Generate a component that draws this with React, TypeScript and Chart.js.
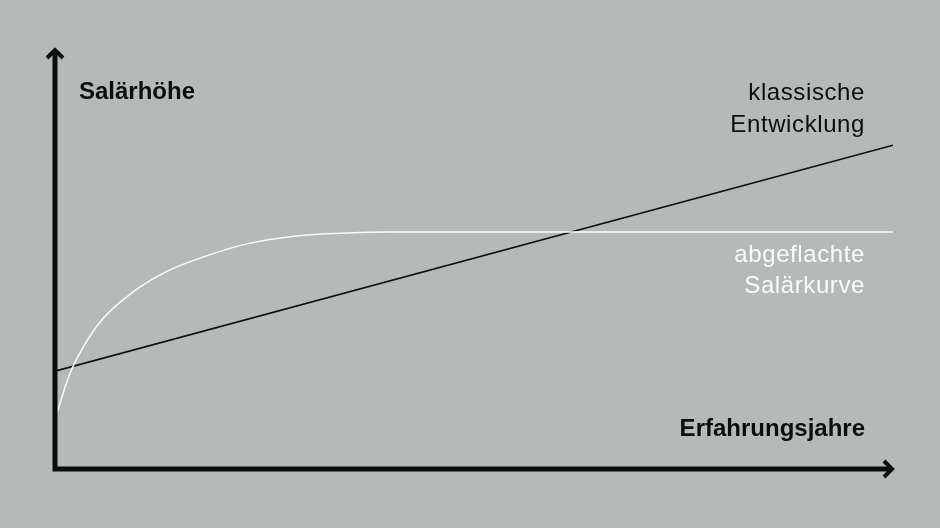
import { useEffect, useRef } from "react"
import { Chart, registerables, type Plugin } from "chart.js"

Chart.register(...registerables)

// salary curves (x = years of experience, y = salary level, both 0..100)
const classicYears = [0, 100]
const classicSalary = [23.3, 77.1]

const flatYears = [0.27, 1.79, 3.38, 5.76, 9.34, 13.3, 17.3, 22.9, 28.8, 34.8, 40, 100]
const flatSalary = [13.6, 22.8, 29.1, 35.9, 42.2, 47.0, 50.2, 53.6, 55.5, 56.2, 56.4, 56.4]

const yAxisTitle = "Salärhöhe"
const xAxisTitle = "Erfahrungsjahre"
const classicLabel = ["klassische", "Entwicklung"]
const flatLabel = ["abgeflachte", "Salärkurve"]

const BG = "rgb(181, 186, 185)"
const INK = "#0d0d0d"
const WHITE = "#fbfbfb"
const FONT = "'Liberation Sans', Arial, sans-serif"

// arrows, axis lines and the text labels
const decorPlugin: Plugin = {
  id: "decor",
  afterDatasetsDraw(chart) {
    const { ctx, chartArea } = chart
    const { left, right, top, bottom } = chartArea
    ctx.save()

    // axes
    ctx.strokeStyle = INK
    ctx.lineWidth = 5
    ctx.lineCap = "butt"
    ctx.beginPath()
    ctx.moveTo(left, top + 2)
    ctx.lineTo(left, bottom + 2.5)
    ctx.moveTo(left - 2.5, bottom)
    ctx.lineTo(right - 2, bottom)
    ctx.stroke()

    // arrow heads
    ctx.lineWidth = 4
    ctx.lineJoin = "miter"
    ctx.beginPath()
    ctx.moveTo(left - 8, top + 9)
    ctx.lineTo(left, top + 1)
    ctx.lineTo(left + 8, top + 9)
    ctx.moveTo(right - 9, bottom - 8)
    ctx.lineTo(right - 1, bottom)
    ctx.lineTo(right - 9, bottom + 8)
    ctx.stroke()

    // labels
    const textRight = right - 28
    ctx.textBaseline = "alphabetic"

    ctx.fillStyle = INK
    ctx.font = `bold 24px ${FONT}`
    ctx.textAlign = "left"
    ctx.fillText(yAxisTitle, left + 24, 99)
    ctx.textAlign = "right"
    ctx.fillText(xAxisTitle, textRight, 436)

    ctx.font = `24px ${FONT}`
    ;(ctx as any).letterSpacing = "0.6px"
    ctx.fillText(classicLabel[0], textRight, 100)
    ctx.fillText(classicLabel[1], textRight, 132)

    ctx.fillStyle = WHITE
    ctx.fillText(flatLabel[0], textRight, 262)
    ctx.fillText(flatLabel[1], textRight, 293)

    ctx.restore()
  },
}

function SalaryChart() {
  const canvasRef = useRef<HTMLCanvasElement>(null)
  const chartInstance = useRef<Chart | null>(null)

  useEffect(() => {
    if (!canvasRef.current) return

    if (chartInstance.current) {
      chartInstance.current.destroy()
    }

    chartInstance.current = new Chart(canvasRef.current, {
      type: "line",
      data: {
        datasets: [
          {
            label: "abgeflachte Salärkurve",
            data: flatYears.map((x, i) => ({ x, y: flatSalary[i] })),
            borderColor: WHITE,
            borderWidth: 1.5,
            pointRadius: 0,
            cubicInterpolationMode: "monotone",
            fill: false,
          },
          {
            label: "klassische Entwicklung",
            data: classicYears.map((x, i) => ({ x, y: classicSalary[i] })),
            borderColor: INK,
            borderWidth: 1.6,
            pointRadius: 0,
            tension: 0,
            fill: false,
          },
        ],
      },
      options: {
        responsive: false,
        animation: false,
        layout: { padding: { left: 55, right: 47, top: 49, bottom: 59 } },
        scales: {
          x: { type: "linear", min: 0, max: 100, display: false },
          y: { type: "linear", min: 0, max: 100, display: false },
        },
        plugins: {
          legend: { display: false },
          tooltip: { enabled: false },
        },
      },
      plugins: [decorPlugin],
    })

    return () => {
      if (chartInstance.current) {
        chartInstance.current.destroy()
        chartInstance.current = null
      }
    }
  }, [])

  return <canvas ref={canvasRef} width={940} height={528} style={{ display: "block" }} />
}

export default function App() {
  return (
    <div style={{ position: "fixed", left: 0, top: 0, width: 940, height: 528, background: BG }}>
      <SalaryChart />
    </div>
  )
}
